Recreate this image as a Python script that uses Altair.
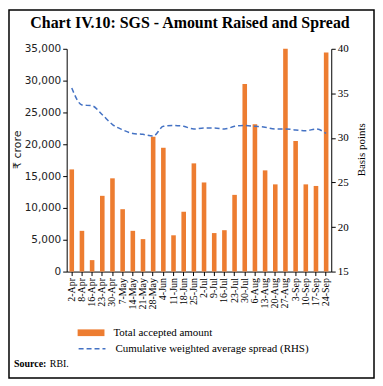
import altair as alt
import pandas as pd

dates = ["2-Apr", "8-Apr", "16-Apr", "23-Apr", "30-Apr", "7-May", "14-May", "21-May",
         "28-May", "4-Jun", "11-Jun", "18-Jun", "25-Jun", "2-Jul", "9-Jul", "16-Jul",
         "23-Jul", "30-Jul", "6-Aug", "13-Aug", "20-Aug", "27-Aug", "3-Sep", "10-Sep",
         "17-Sep", "24-Sep"]
amount = [16050, 6400, 1800, 11900, 14650, 9800, 6400, 5100, 21200, 19450, 5700, 9400,
          17000, 14000, 6050, 6500, 12050, 29450, 23150, 15900, 13700, 35000, 20500,
          13700, 13450, 34400]
spread = [35.6, 33.7, 33.6, 32.6, 31.5, 30.9, 30.5, 30.4, 30.2, 31.3, 31.4, 31.3, 31.0,
          31.1, 31.1, 31.0, 31.3, 31.4, 31.3, 31.2, 31.0, 31.0, 30.9, 30.8, 31.0, 30.5]

bar_name = "Total accepted amount"
line_name = "Cumulative weighted average spread (RHS)"

df = pd.DataFrame({"date": dates, "amount": amount, "spread": spread,
                   "sa": bar_name, "sb": line_name})

W, H = 266, 224
SERIF = "Liberation Serif"
SANS = "DejaVu Sans"
ORANGE = "#ED7D31"
BLUE = "#4472C4"

x_enc = alt.X("date:N", sort=dates, title=None,
              scale=alt.Scale(paddingInner=0.55, paddingOuter=0.275),
              axis=alt.Axis(labelAngle=270, labelFont=SERIF, labelFontSize=10,
                            labelColor="black", tickColor="black", domainColor="black",
                            tickSize=4, labelPadding=2, grid=False))

bars = alt.Chart(df).mark_bar(color=ORANGE).encode(
    x=x_enc,
    y=alt.Y("amount:Q", scale=alt.Scale(domain=[0, 35000]),
            axis=alt.Axis(values=list(range(0, 35001, 5000)), format=",.0f", grid=False,
                          title="₹ crore", titleFont=SANS, titleFontSize=11,
                          titleFontWeight="normal", titleColor="#222", titleY=101,
                          titlePadding=2,
                          labelFont=SANS, labelFontSize=10.5, labelColor="#222",
                          tickColor="black", domainColor="black", tickSize=4)),
    color=alt.Color("sa:N", scale=alt.Scale(range=[ORANGE]),
                    legend=alt.Legend(orient="none", legendX=11, legendY=272, title=None,
                                      symbolType="M-1,-0.25H1V0.25H-1Z", symbolSize=729,
                                      symbolStrokeWidth=0, labelFont=SERIF,
                                      labelFontSize=11, labelColor="black", labelOffset=9,
                                      labelLimit=0)),
)

line = alt.Chart(df).mark_line(color=BLUE, strokeWidth=1.5, interpolate="monotone").encode(
    x=x_enc,
    y=alt.Y("spread:Q", scale=alt.Scale(domain=[15, 40]),
            axis=alt.Axis(orient="right", values=[15, 20, 25, 30, 35, 40], grid=False,
                          title="Basis points", titleFont=SERIF, titleFontSize=11,
                          titleFontWeight="normal", titleColor="black", titleY=101,
                          titleAngle=270,
                          labelFont=SERIF, labelFontSize=11, labelColor="black",
                          tickColor="black", domainColor="black", tickSize=4,
                          titlePadding=18)),
    strokeDash=alt.StrokeDash("sb:N", scale=alt.Scale(range=[[5, 3]]),
                              legend=alt.Legend(orient="none", legendX=11, legendY=287,
                                                title=None, symbolType="stroke",
                                                symbolSize=729, symbolStrokeColor=BLUE,
                                                symbolStrokeWidth=1.5, labelFont=SERIF,
                                                labelFontSize=11, labelColor="black",
                                                labelOffset=9, labelLimit=0)),
)

one = pd.DataFrame({"k": [0]})

border = alt.Chart(one).mark_rect(fillOpacity=0, stroke="black", strokeWidth=1.5).encode(
    x=alt.value(-58), x2=alt.value(309), y=alt.value(-39), y2=alt.value(331))

title = alt.Chart(one).mark_text(text="Chart IV.10: SGS - Amount Raised and Spread",
                                 font=SERIF, fontSize=16, fontWeight="bold",
                                 align="center", baseline="middle", color="black").encode(
    x=alt.value(124), y=alt.value(-26))

src1 = alt.Chart(one).mark_text(text="Source:", font=SERIF, fontSize=10, fontWeight="bold",
                                align="left", baseline="middle", color="black").encode(
    x=alt.value(-53), y=alt.value(317))
src2 = alt.Chart(one).mark_text(text="RBI.", font=SERIF, fontSize=10,
                                align="left", baseline="middle", color="black").encode(
    x=alt.value(-17), y=alt.value(317))

chart = alt.layer(bars, line, border, title, src1, src2).resolve_scale(
    y="independent").properties(width=W, height=H, padding=0, background="white"
).configure_view(stroke=None)

chart.save("out.html", embed_options={"renderer": "svg", "actions": False})
